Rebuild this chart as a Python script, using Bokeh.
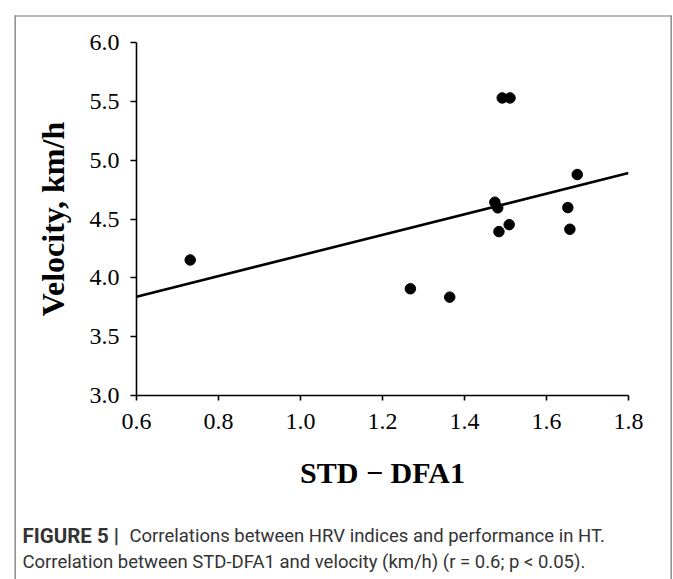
from bokeh.plotting import figure
from bokeh.models import Range1d, FixedTicker, NumeralTickFormatter, Label, ColumnDataSource
from bokeh.embed import file_html
from bokeh.resources import INLINE

# data
std_dfa1 = [0.731, 1.268, 1.364, 1.474, 1.481, 1.484, 1.492, 1.509, 1.511, 1.652, 1.657, 1.675]
velocity = [4.152, 3.907, 3.836, 4.643, 4.595, 4.393, 5.529, 4.452, 5.529, 4.597, 4.413, 4.878]
trend_x = [0.6, 1.8]
trend_y = [3.84, 4.89]
x_ticks = [0.6, 0.8, 1.0, 1.2, 1.4, 1.6, 1.8]
y_ticks = [3.0, 3.5, 4.0, 4.5, 5.0, 5.5, 6.0]
x_title = "STD \u2212 DFA1"
y_title = "Velocity, km/h"
caption_bold = "FIGURE 5 |"
caption_line1 = "Correlations between HRV indices and performance in HT."
caption_line2 = "Correlation between STD-DFA1 and velocity (km/h) (r = 0.6; p < 0.05)."

SERIF = "Liberation Serif"
SANS = "Roboto"

W, H = 673, 579
FL, FR, FT, FB = 136, 628, 42, 395   # frame edges in canvas pixels
X0, X1, Y0, Y1 = 0.6, 1.8, 3.0, 6.0

def px2x(px):
    return X0 + (px - FL) * (X1 - X0) / (FR - FL)

def py2y(py):
    return Y0 + (FB - py) * (Y1 - Y0) / (FB - FT)

p = figure(width=W, height=H, x_range=Range1d(X0, X1), y_range=Range1d(Y0, Y1),
           output_backend="svg", toolbar_location=None,
           min_border_left=FL, min_border_right=W - FR, min_border_top=FT, min_border_bottom=H - FB)
p.outline_line_color = None
p.grid.visible = False
p.background_fill_color = "white"
p.border_fill_color = "white"

src = ColumnDataSource(dict(x=std_dfa1, y=velocity))
p.line(trend_x, trend_y, line_color="black", line_width=2.6)
p.scatter("x", "y", source=src, size=10.5, fill_color="black", line_color="black")

for ax, ticks in ((p.xaxis[0], x_ticks), (p.yaxis[0], y_ticks)):
    ax.ticker = FixedTicker(ticks=ticks)
    ax.formatter = NumeralTickFormatter(format="0.0")
    ax.minor_tick_line_color = None
    ax.major_tick_in = 0
    ax.axis_line_width = 1.6
    ax.major_tick_line_width = 1.6
    ax.axis_line_color = "black"
    ax.major_tick_line_color = "black"
    ax.major_label_text_font = SERIF
    ax.major_label_text_font_size = "24px"
    ax.major_label_text_color = "black"
    ax.axis_label_text_font = SERIF
    ax.axis_label_text_font_style = "bold"
    ax.axis_label_text_color = "black"

p.xaxis.axis_label_text_font_size = "30px"
p.yaxis.axis_label_text_font_size = "32px"
p.xaxis.major_tick_out = 5
p.yaxis.major_tick_out = 6
p.xaxis.major_label_standoff = 13
p.yaxis.major_label_standoff = 11
p.xaxis.axis_label = x_title
p.yaxis.axis_label = y_title
p.xaxis.axis_label_standoff = 24
p.yaxis.axis_label_standoff = 16

# caption (placed in the side panel so that it is not clipped to the frame)
cap_font = dict(text_font=SANS, text_color="#333333", text_baseline="middle")
p.add_layout(Label(x=px2x(22), y=py2y(535), text=caption_bold, text_font_style="bold",
                   text_font_size="20.5px", **cap_font), "below")
p.add_layout(Label(x=px2x(129), y=py2y(535), text=caption_line1, text_font_size="18.5px", **cap_font), "below")
p.add_layout(Label(x=px2x(22), y=py2y(561), text=caption_line2, text_font_size="18.5px", **cap_font), "below")

# outer figure frame (three thin filled bars; the bottom edge lies beyond the window)
BORDER = "#777777"
def bar(px, py, right, bottom, side):
    p.add_layout(Label(x=px2x(px), y=py2y(py), text=" ", text_font_size="1px",
                       text_align="left", text_baseline="top",
                       padding=dict(left=0, right=right, top=0, bottom=bottom),
                       background_fill_color=BORDER, border_line_color=None), side)

bar(14, 15, 657, 0, "above")
bar(14, 15, 1, 600, "left")
bar(670, 15, 1, 600, "right")

open("out.html", "w").write(file_html(p, INLINE))
